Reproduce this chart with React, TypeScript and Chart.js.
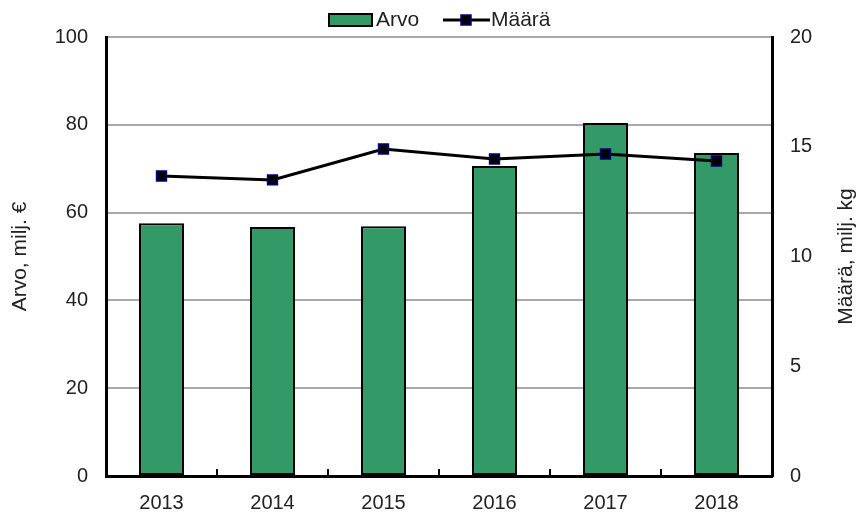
import React, { useEffect, useRef } from "react";
import { Chart, registerables } from "chart.js";

Chart.register(...registerables);

const years = ["2013", "2014", "2015", "2016", "2017", "2018"];
const arvo = [57.6, 56.7, 56.9, 70.6, 80.4, 73.6];
const maara = [13.67, 13.49, 14.9, 14.44, 14.67, 14.35];
const leftTicks = [0, 20, 40, 60, 80, 100];
const rightTicks = [0, 5, 10, 15, 20];

const FONT = "'Liberation Sans', Arial, sans-serif";
const GREEN = "#339966";

const customPlugin = {
  id: "customDeco",
  afterDraw(chart: any) {
    const ctx = chart.ctx;
    const area = chart.chartArea;
    ctx.save();
    // right axis title, reading bottom-to-top
    ctx.fillStyle = "#222";
    ctx.font = `21px ${FONT}`;
    ctx.textAlign = "center";
    ctx.textBaseline = "middle";
    ctx.translate(846, (area.top + area.bottom) / 2);
    ctx.rotate(-Math.PI / 2);
    ctx.fillText("Määrä, milj. kg", 0, 0);
    ctx.restore();

    // legend
    ctx.save();
    ctx.font = `21px ${FONT}`;
    ctx.textBaseline = "middle";
    ctx.textAlign = "left";
    ctx.fillStyle = GREEN;
    ctx.fillRect(329, 14, 43, 12);
    ctx.strokeStyle = "#000";
    ctx.lineWidth = 2;
    ctx.strokeRect(329, 14, 43, 12);
    ctx.fillStyle = "#222";
    ctx.fillText(years.length ? "Arvo" : "", 376, 20);
    ctx.beginPath();
    ctx.moveTo(443, 20);
    ctx.lineTo(490, 20);
    ctx.lineWidth = 3;
    ctx.strokeStyle = "#000";
    ctx.stroke();
    ctx.fillStyle = "#000";
    ctx.fillRect(461, 15, 10, 10);
    ctx.strokeStyle = "#000080";
    ctx.lineWidth = 1.5;
    ctx.strokeRect(461, 15, 10, 10);
    ctx.fillStyle = "#222";
    ctx.fillText("Määrä", 491, 20);
    ctx.restore();
  },
};

export default function App() {
  const ref = useRef<HTMLCanvasElement>(null);
  useEffect(() => {
    document.body.style.margin = "0";
    const chart = new Chart(ref.current!, {
      type: "bar",
      data: {
        labels: years,
        datasets: [
          {
            type: "line",
            label: "Määrä",
            data: maara,
            yAxisID: "y1",
            borderColor: "#000",
            borderWidth: 3,
            pointStyle: "rect",
            pointRadius: 7,
            pointBackgroundColor: "#000",
            pointBorderColor: "#000080",
            pointBorderWidth: 1.5,
            order: 0,
          } as any,
          {
            type: "bar",
            label: "Arvo",
            data: arvo,
            yAxisID: "y",
            backgroundColor: GREEN,
            borderColor: "#000",
            borderWidth: 2,
            borderSkipped: false,
            barPercentage: 0.405,
            categoryPercentage: 1,
            order: 1,
          },
        ],
      },
      options: {
        responsive: false,
        animation: false,
        layout: { padding: { top: 37, left: 0, right: 0, bottom: 0 } },
        plugins: { legend: { display: false }, tooltip: { enabled: false } },
        scales: {
          x: {
            grid: {
              display: true,
              offset: true,
              drawOnChartArea: false,
              drawTicks: true,
              tickLength: -7,
              color: "#000",
              lineWidth: 2,
            },
            border: { display: true, color: "#000", width: 3 },
            ticks: { color: "#222", font: { family: FONT, size: 20 }, padding: 22 },
            afterFit(scale: any) {
              scale.height = 42;
            },
          },
          y: {
            position: "left",
            min: 0,
            max: 100,
            afterBuildTicks(scale: any) {
              scale.ticks = leftTicks.map((v) => ({ value: v }));
            },
            grid: { color: "#a8a8a8", lineWidth: 2, drawTicks: false },
            border: { display: true, color: "#000", width: 3 },
            ticks: { color: "#222", font: { family: FONT, size: 20 }, padding: 18 },
            title: {
              display: true,
              text: "Arvo, milj. €",
              color: "#222",
              font: { family: FONT, size: 21 },
              padding: { top: 8, bottom: 0 },
            },
            afterFit(scale: any) {
              scale.width = 106;
            },
          },
          y1: {
            position: "right",
            min: 0,
            max: 20,
            afterBuildTicks(scale: any) {
              scale.ticks = rightTicks.map((v) => ({ value: v }));
            },
            grid: { drawOnChartArea: false, drawTicks: false },
            border: { display: true, color: "#000", width: 3 },
            ticks: { color: "#222", font: { family: FONT, size: 20 }, padding: 18 },
            afterFit(scale: any) {
              scale.width = 90;
            },
          },
        },
      },
      plugins: [customPlugin],
    });
    return () => chart.destroy();
  }, []);
  return <canvas ref={ref} width={862} height={518} style={{ display: "block" }} />;
}
